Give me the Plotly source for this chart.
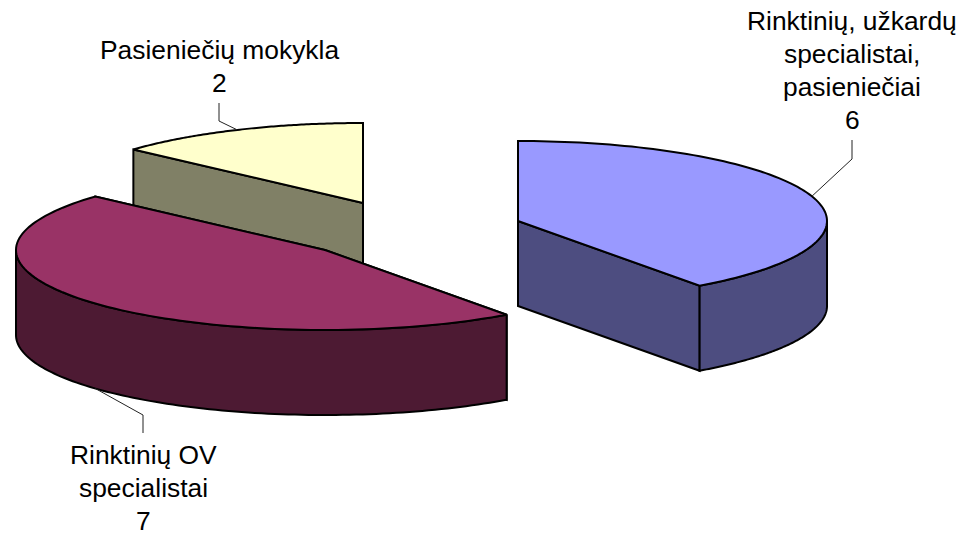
import math
import plotly.graph_objects as go

categories = ["Rinktinių, užkardų specialistai, pasieniečiai", "Rinktinių OV specialistai", "Pasieniečių mokykla"]
values = [6, 7, 2]
label_lines = [["Rinktinių, užkardų", "specialistai,", "pasieniečiai", "6"],
               ["Rinktinių OV", "specialistai", "7"],
               ["Pasieniečių mokykla", "2"]]
top_colors = ["#9999FF", "#993366", "#FFFFCC"]
side_colors = ["#4D4D80", "#4D1A33", "#808066"]

# layout of the exploded pie, in plot units (pixels)
WIDTH, HEIGHT = 967, 533
centers = [(518, 221), (325, 250), (363, 203)]
RX, RY, DEPTH = 309, 80, 85
label_x = [852, 143, 219]
label_y0 = [21, 455, 50]
LINE_STEP = 33
elbows = [[(852, 159), (852, 140)], [(143, 415), (143, 433)], [(219, 121), (219, 103)]]
draw_order = [2, 0, 1]

total = sum(values)
spans = []
start = 0.0
for v in values:
    end = start + 360.0 * v / total
    spans.append((start, end))
    start = end


def pt(c, deg, dz=0):
    a = math.radians(deg)
    return c[0] + RX * math.sin(a), c[1] - RY * math.cos(a) + dz


def arc(c, a0, a1, dz=0, n=100):
    return [pt(c, a0 + (a1 - a0) * i / n, dz) for i in range(n + 1)]


fig = go.Figure()


def poly(points, fill):
    fig.add_trace(go.Scatter(
        x=[p[0] for p in points] + [points[0][0]],
        y=[p[1] for p in points] + [points[0][1]],
        mode="lines", fill="toself", fillcolor=fill,
        line=dict(color="black", width=2, simplify=False),
        hoverinfo="skip", showlegend=False))


for i in draw_order:
    c = centers[i]
    a0, a1 = spans[i]
    # radial faces
    for a in (a0, a1):
        p = pt(c, a)
        poly([c, p, (p[0], p[1] + DEPTH), (c[0], c[1] + DEPTH)], side_colors[i])
    # outer wall: the part of the rim on the near half
    w0, w1 = max(a0, 90), min(a1, 270)
    if w1 > w0:
        poly(arc(c, w0, w1) + arc(c, w1, w0, DEPTH), side_colors[i])
    # top face
    poly([c] + arc(c, a0, a1), top_colors[i])

# leader lines
for i in range(len(values)):
    c = centers[i]
    mid = sum(spans[i]) / 2
    dz = DEPTH if 90 < mid < 270 else 0
    pts = [pt(c, mid, dz)] + elbows[i]
    fig.add_trace(go.Scatter(x=[p[0] for p in pts], y=[p[1] for p in pts], mode="lines",
                             line=dict(color="#222222", width=1), hoverinfo="skip", showlegend=False))
    for k, line in enumerate(label_lines[i]):
        fig.add_annotation(x=label_x[i], y=label_y0[i] + k * LINE_STEP, text=line, showarrow=False,
                           xanchor="center", yanchor="middle",
                           font=dict(family="Liberation Sans", size=26.4, color="black"))

fig.update_xaxes(visible=False, range=[0, WIDTH], fixedrange=True)
fig.update_yaxes(visible=False, range=[HEIGHT, 0], fixedrange=True)
fig.update_layout(width=WIDTH, height=HEIGHT, margin=dict(l=0, r=0, t=0, b=0),
                  paper_bgcolor="white", plot_bgcolor="white", showlegend=False)
fig.write_html("out.html", config={"displayModeBar": False},
               post_script="document.body.style.margin='0';document.body.style.overflow='hidden';")
